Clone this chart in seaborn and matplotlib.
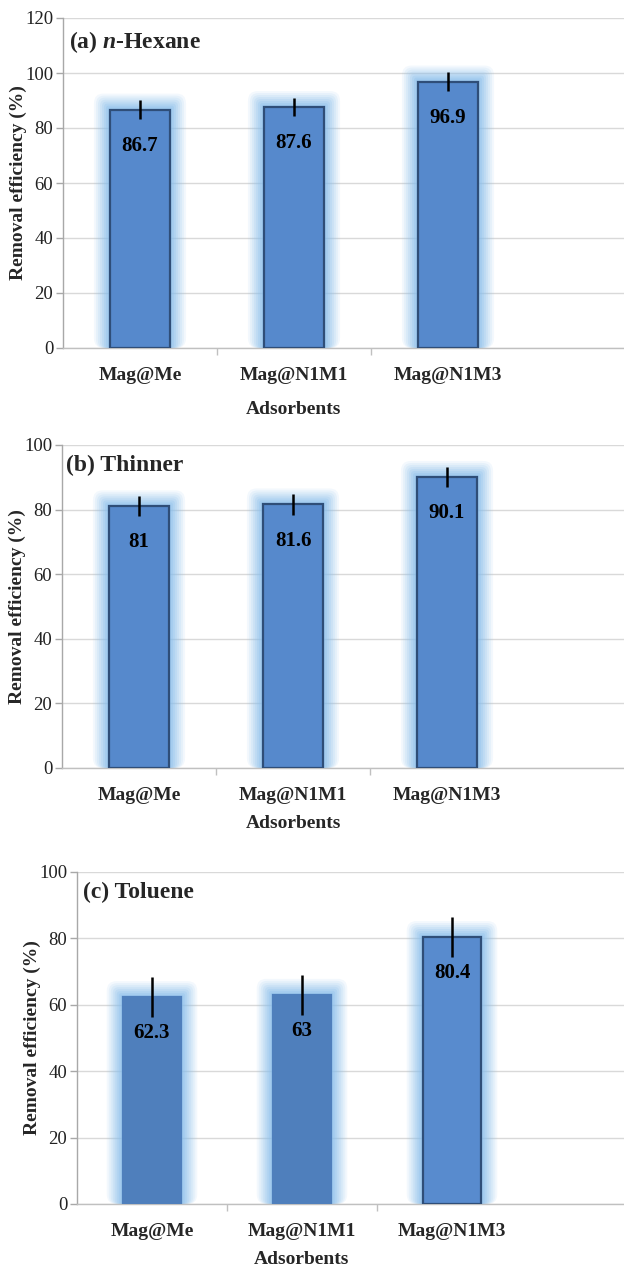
import matplotlib
matplotlib.use("Agg")
import matplotlib.pyplot as plt
import seaborn as sns
from matplotlib.patches import FancyBboxPatch

# ---------------- data ----------------
categories = ["Mag@Me", "Mag@N1M1", "Mag@N1M3"]
hexane_values = [86.7, 87.6, 96.9]
hexane_errors = [3.5, 3.4, 3.6]
thinner_values = [81, 81.6, 90.1]
thinner_errors = [3.1, 3.2, 3.2]
toluene_values = [62.3, 63, 80.4]
toluene_errors = [6.0, 6.0, 6.1]
panel_titles = ["(a) $n$-Hexane", "(b) Thinner", "(c) Toluene"]
y_maxes = [120, 100, 100]
y_label = "Removal efficiency (%)"
x_label = "Adsorbents"

sns.set_theme(style="white")
plt.rcParams["font.family"] = ["Liberation Serif", "DejaVu Serif"]
plt.rcParams["mathtext.fontset"] = "custom"
plt.rcParams["mathtext.it"] = "Liberation Serif:italic:bold"
plt.rcParams["mathtext.rm"] = "Liberation Serif:bold"

W, H = 624, 1269
fig = plt.figure(figsize=(W / 100, H / 100), dpi=100)

# axes rectangles in pixels: left, top, bottom, category spacing
layout = [
    (63, 18, 348, 154),
    (62, 445, 768, 154),
    (77, 872, 1204, 150),
]
panels = [
    (hexane_values, hexane_errors),
    (thinner_values, thinner_errors),
    (toluene_values, toluene_errors),
]
bar_colors = [
    ["#5689CC", "#5689CC", "#5689CC"],
    ["#5689CC", "#5689CC", "#5689CC"],
    ["#4F7FBC", "#4F7FBC", "#588BCE"],
]
edge_colors = [
    ["#2F4E78"] * 3,
    ["#2F4E78"] * 3,
    ["#4F7FBC", "#4F7FBC", "#2F4E78"],
]
title_pos = [(69, 42), (66, 465), (83, 892)]
xlabel_y = [410, 823, 1260]

for i, ((vals, errs), (left, top, bottom, sp)) in enumerate(zip(panels, layout)):
    ax = fig.add_axes([left / W, 1 - bottom / H, (W - left) / W, (bottom - top) / H])
    right_lim = -0.5 + (W - left) / sp
    sns.barplot(x=categories, y=vals, hue=categories, palette=bar_colors[i],
                legend=False, width=0.39, ax=ax, zorder=3, saturation=1)
    ax.set_xlim(-0.5, right_lim)
    ax.set_ylim(0, y_maxes[i])
    bars = list(ax.patches)
    ppu_x = sp
    ppu_y = (bottom - top) / y_maxes[i]
    for b, ec in zip(bars, edge_colors[i]):
        b.set_edgecolor(ec)
        b.set_linewidth(1.6)
        x0, w, h = b.get_x(), b.get_width(), b.get_height()
        # soft glow
        for k, a in [(16, 0.10), (14, 0.12), (12, 0.14), (10, 0.17), (8, 0.20),
                     (6, 0.25), (4, 0.30), (2, 0.38)]:
            dx = k / ppu_x
            dy = k / ppu_y
            g = FancyBboxPatch((x0 - dx, 0), w + 2 * dx, h + dy,
                               boxstyle="round,pad=0,rounding_size=%f" % (dx * 0.6),
                               mutation_aspect=ppu_x / ppu_y,
                               facecolor="#8CC0EC", edgecolor="none", alpha=a,
                               zorder=2)
            ax.add_patch(g)
    xs = [b.get_x() + b.get_width() / 2 for b in bars]
    ax.errorbar(xs, vals, yerr=errs, fmt="none", ecolor="black", elinewidth=1.8,
                capsize=0, zorder=5)
    for x, v in zip(xs, vals):
        ax.annotate(f"{v:g}", (x, v), xytext=(0, -26), textcoords="offset points",
                    ha="center", va="center", fontsize=15, fontweight="bold",
                    color="black", zorder=6)
    ax.yaxis.grid(True, color="#D9D9D9", linewidth=1.0, zorder=0)
    ax.set_axisbelow(True)
    ax.set_yticks(range(0, y_maxes[i] + 1, 20))
    ax.tick_params(axis="y", labelsize=13.5, left=True, length=5, color="#A8A8A8",
                   width=1, labelcolor="#222222", pad=2)
    ax.set_xticks(range(len(categories)))
    ax.set_xticklabels(categories, fontsize=14, fontweight="bold")
    ax.tick_params(axis="x", bottom=False, pad=8)
    ax.set_xticks([0.5, 1.5], minor=True)
    ax.tick_params(axis="x", which="minor", bottom=True, length=5, color="#C0C0C0")
    for s in ["top", "right"]:
        ax.spines[s].set_visible(False)
    ax.spines["left"].set_color("#A8A8A8")
    ax.spines["bottom"].set_color("#C0C0C0")
    ax.spines["left"].set_linewidth(1)
    ax.spines["bottom"].set_linewidth(1)
    ax.set_ylabel(y_label, fontsize=14, fontweight="bold")
    ax.yaxis.set_label_coords(-36 / (W - left), 0.5)
    ax.set_xlabel(x_label, fontsize=14, fontweight="bold", va="center")
    xfrac = (1 + 0.5) / (right_lim + 0.5)
    ax.xaxis.set_label_coords(xfrac, (bottom - xlabel_y[i]) / (bottom - top))
    tx, ty = title_pos[i]
    fig.text(tx / W, 1 - ty / H, panel_titles[i], fontsize=17, fontweight="bold",
             ha="left", va="center")

fig.savefig("out.png", dpi=100)
